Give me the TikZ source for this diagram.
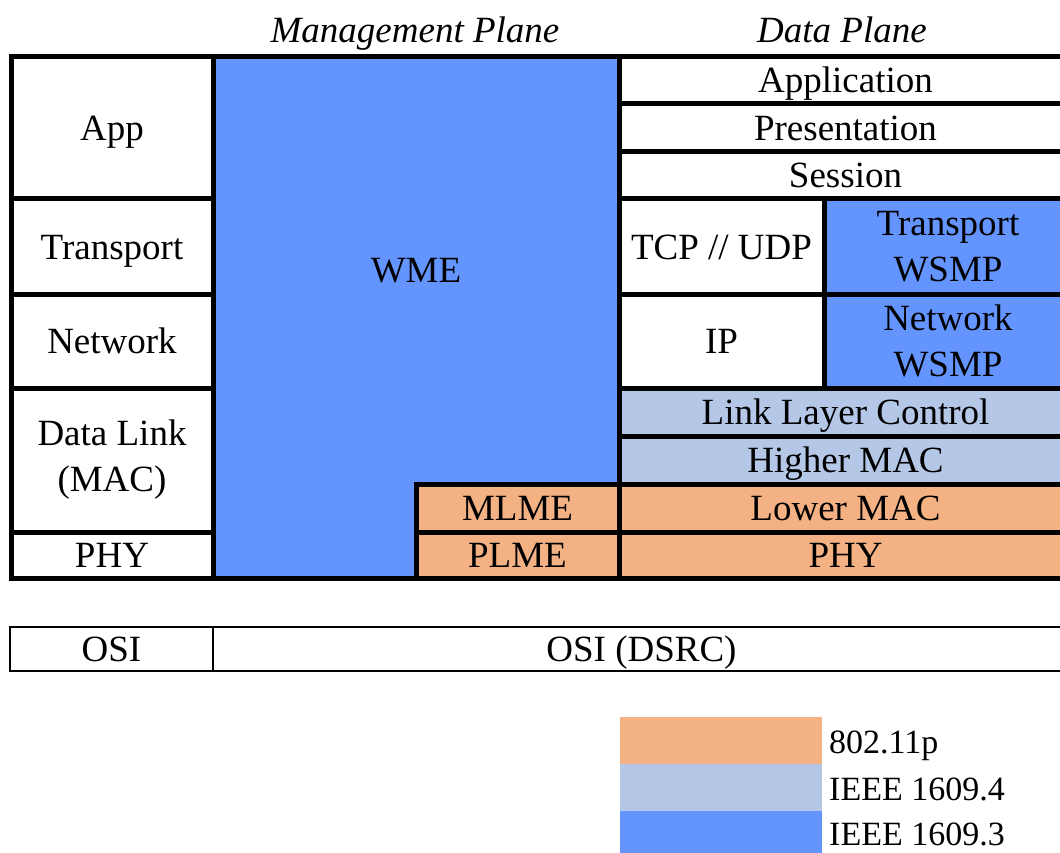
\documentclass[tikz,border=0pt]{standalone}
\usepackage{fontspec}
\setmainfont{Liberation Serif}
\definecolor{wblue}{HTML}{6495FF}
\definecolor{lblue}{HTML}{B4C7E7}
\definecolor{orng}{HTML}{F4B183}
\tikzset{
  cell/.style={draw=black, line width=5pt, inner sep=0pt, align=center, font=\fontsize{37}{46}\selectfont},
  thincell/.style={draw=black, line width=2.5pt, inner sep=0pt, align=center, font=\fontsize{37}{46}\selectfont},
  one/.style={text height=25pt, text depth=0pt},
  hdr/.style={font=\fontsize{37}{46}\selectfont\itshape, inner sep=0pt, one},
  legtxt/.style={font=\fontsize{34}{40}\selectfont, inner sep=0pt, anchor=west, text height=23pt, text depth=0pt},
}
\newcommand\cellnode[8]{\node[#8, fill=#6, minimum width={#4-#2}, minimum height={#5-#3}] (#1) at ({(#2+#4)/2},{(#3+#5)/2}) {#7};}
\begin{document}
\begin{tikzpicture}[x=1pt,y=-1pt]
\useasboundingbox (0,0) rectangle (1060,853);
% headers
\node[hdr] (hm) at (415,30) {Management Plane};
\node[hdr] (hd) at (842,30) {Data Plane};
% WME L-shape
\draw[fill=wblue, line width=5pt] (213,57) -- (619,57) -- (619,484) -- (416,484) -- (416,578) -- (213,578) -- cycle;
\node[font=\fontsize{37}{46}\selectfont, one] (wme) at (416,270) {WME};
% left OSI column
\cellnode{app}{11}{57}{213}{199}{white}{App}{cell,one}
\cellnode{tra}{11}{199}{213}{294}{white}{Transport}{cell,one}
\cellnode{net}{11}{294}{213}{388}{white}{Network}{cell,one}
\cellnode{dl}{11}{388}{213}{532}{white}{Data Link\\(MAC)}{cell}
\cellnode{phy}{11}{532}{213}{578}{white}{PHY}{cell,one}
% management lower
\cellnode{mlme}{416}{484}{619}{532}{orng}{MLME}{cell,one}
\cellnode{plme}{416}{532}{619}{578}{orng}{PLME}{cell,one}
% data plane
\cellnode{appl}{619}{57}{1072}{104}{white}{Application}{cell,one}
\cellnode{pres}{619}{104}{1072}{152}{white}{Presentation}{cell,one}
\cellnode{sess}{619}{152}{1072}{199}{white}{Session}{cell,one}
\cellnode{tcp}{619}{199}{824}{294}{white}{TCP // UDP}{cell,one}
\cellnode{twsmp}{824}{199}{1072}{294}{wblue}{Transport\\WSMP}{cell}
\cellnode{ip}{619}{294}{824}{388}{white}{IP}{cell,one}
\cellnode{nwsmp}{824}{294}{1072}{388}{wblue}{Network\\WSMP}{cell}
\cellnode{llc}{619}{388}{1072}{436}{lblue}{Link Layer Control}{cell,one}
\cellnode{hmac}{619}{436}{1072}{484}{lblue}{Higher MAC}{cell,one}
\cellnode{lmac}{619}{484}{1072}{532}{orng}{Lower MAC}{cell,one}
\cellnode{dphy}{619}{532}{1072}{578}{orng}{PHY}{cell,one}
% OSI row
\cellnode{osi}{10}{627}{213}{671}{white}{OSI}{thincell,one}
\cellnode{dsrc}{213}{627}{1070}{671}{white}{OSI (DSRC)}{thincell,one}
% legend
\fill[orng] (620,717) rectangle (822,764);
\fill[lblue] (620,764) rectangle (822,811);
\fill[wblue] (620,811) rectangle (822,856);
\node[legtxt] (l1) at (829,742) {802.11p};
\node[legtxt] (l2) at (829,789) {IEEE 1609.4};
\node[legtxt] (l3) at (829,834) {IEEE 1609.3};
\end{tikzpicture}
\end{document}
